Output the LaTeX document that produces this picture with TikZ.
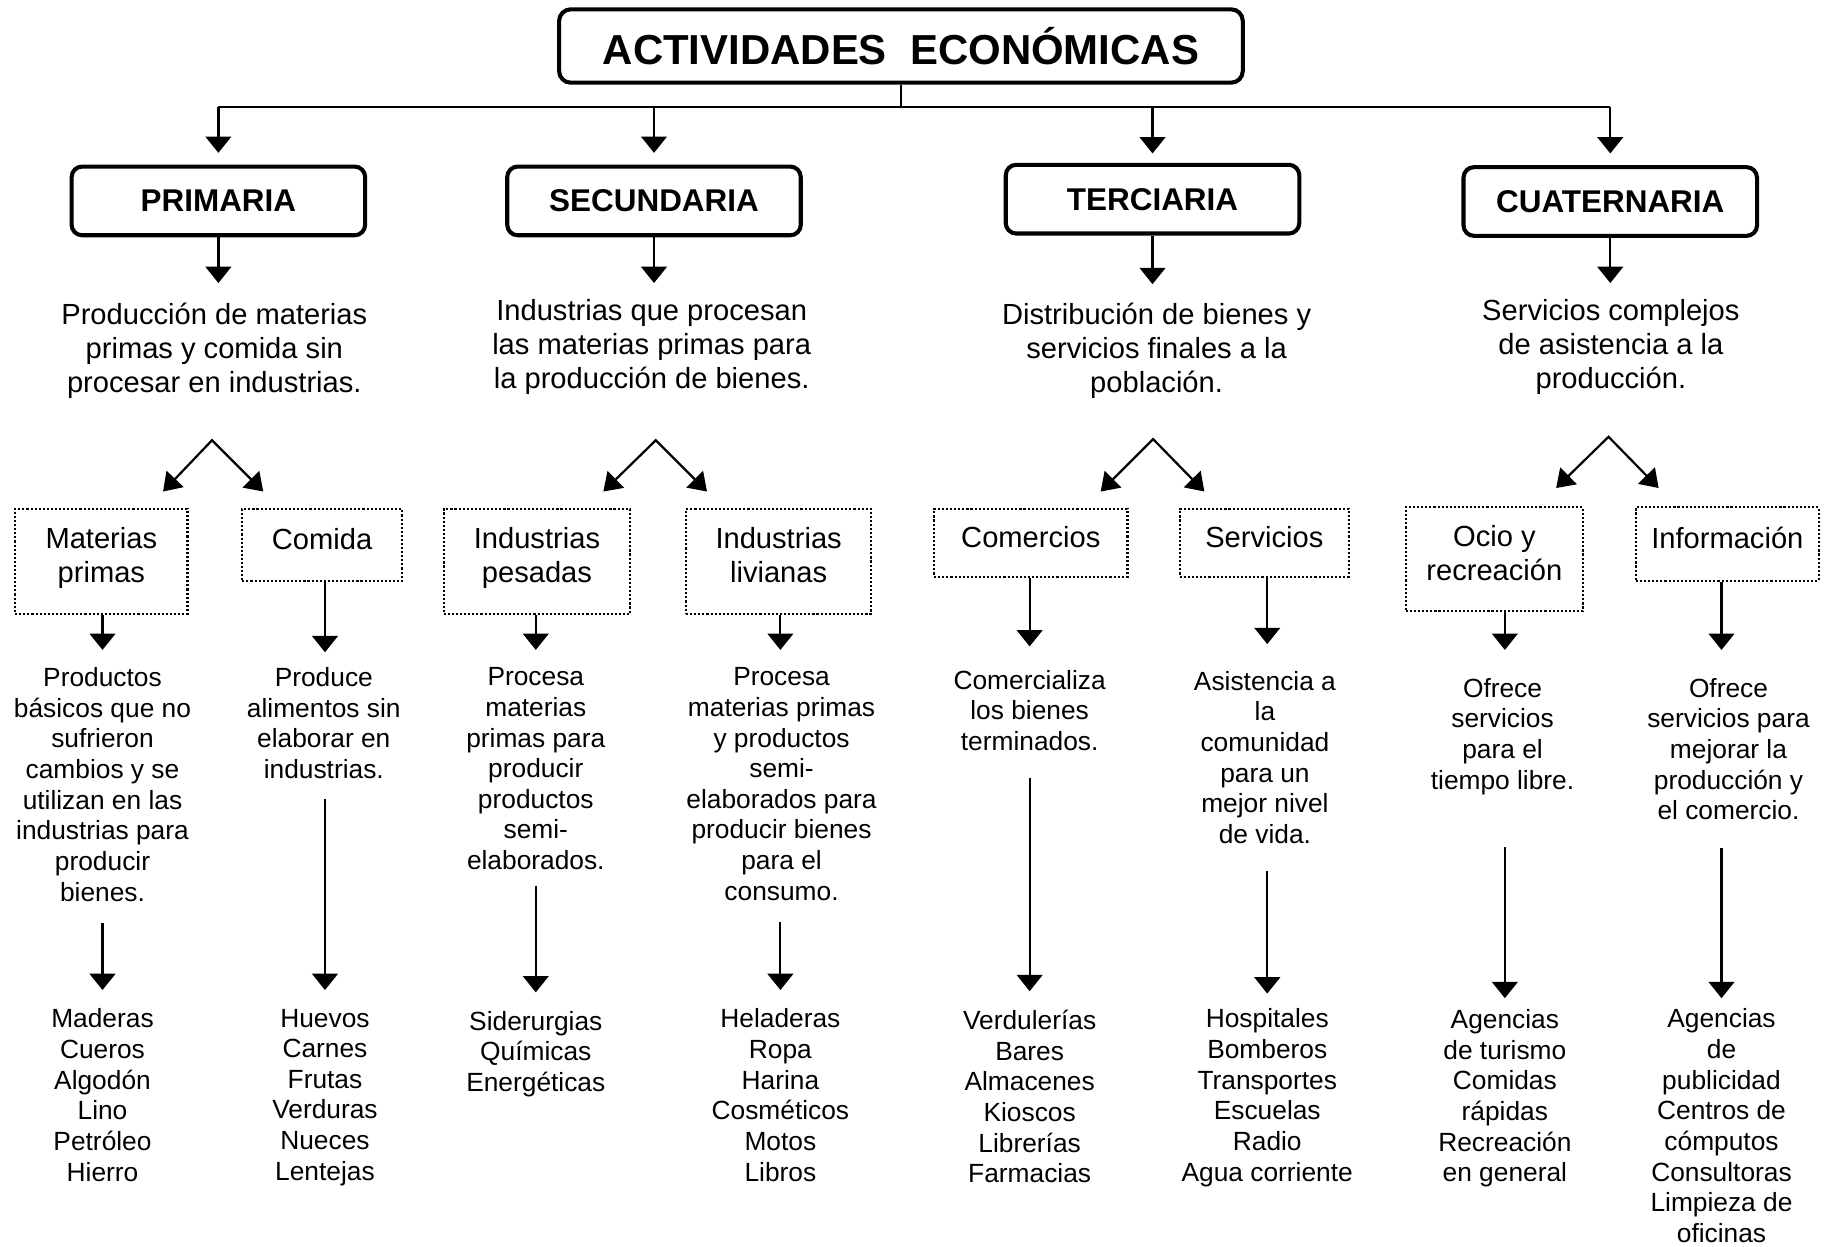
\documentclass[tikz,border=0pt]{standalone}
\usepackage{fontspec}
\setmainfont{Liberation Sans}
\usetikzlibrary{arrows.meta}
\tikzset{
  ln/.style={line width=1.9pt},
  arr/.style={line width=1.9pt, -{Triangle[width=22pt,length=14pt]}},
  fork/.style={line width=1.9pt, {Triangle[width=20pt,length=15pt]}-{Triangle[width=20pt,length=15pt]}},
  titlebox/.style={draw, line width=3.5pt, rounded corners=10pt, inner sep=0pt,
    minimum width=587pt, minimum height=63pt, font=\fontsize{36}{42}\selectfont\bfseries},
  mainbox/.style={draw, line width=3.5pt, rounded corners=9pt, inner sep=0pt,
    minimum width=252pt, minimum height=59pt, font=\fontsize{27}{32}\selectfont\bfseries},
  subbox/.style={draw, line width=1.8pt, dash pattern=on 1.8pt off 1.7pt, inner sep=0pt,
    align=center, font=\fontsize{25}{29}\selectfont,
    execute at end node={\rule[-10.5pt]{0pt}{0pt}}},
  desc/.style={anchor=north, align=center, inner sep=0pt, font=\fontsize{25}{29}\selectfont,
    execute at begin node=\strut, execute at end node=\strut},
  small/.style={anchor=north, align=center, inner sep=0pt, font=\fontsize{22.6}{26.3}\selectfont,
    execute at begin node=\strut, execute at end node=\strut},
}
\begin{document}
\begin{tikzpicture}[x=1pt,y=-1pt]
\useasboundingbox (0,0) rectangle (1566,1070.6);

% title
\node[titlebox] (title) at (773.5,39.5) {ACTIVIDADES\ \ ECONÓMICAS};

% main boxes
\node[mainbox] (p1) at (187.5,172.5) {PRIMARIA};
\node[mainbox] (p2) at (561.5,172.5) {SECUNDARIA};
\node[mainbox] (p3) at (989.5,171) {TERCIARIA};
\node[mainbox] (p4) at (1382.5,173) {CUATERNARIA};

\coordinate (bus) at (773,92);
\draw[ln] (title.south) -- (title.south |- bus);
\draw[ln] (p1.north |- bus) -- (p4.north |- bus);
\draw[arr, shorten >=10pt] (p1.north |- bus) -- (p1.north);
\draw[arr, shorten >=10pt] (p2.north |- bus) -- (p2.north);
\draw[arr, shorten >=8pt] (p3.north |- bus) -- (p3.north);
\draw[arr, shorten >=10pt] (p4.north |- bus) -- (p4.north);

% level 1 descriptions
\node[desc] (d1) at (184,260) {Producción de materias\\primas y comida sin\\procesar en industrias.};
\node[desc] (d2) at (559.5,257) {Industrias que procesan\\las materias primas para\\la producción de bienes.};
\node[desc] (d3) at (993,260) {Distribución de bienes y\\servicios finales a la\\población.};
\node[desc] (d4) at (1383,257) {Servicios complejos\\de asistencia a la\\producción.};

\draw[arr, shorten >=17pt] (p1.south) -- (p1.south |- d1.north);
\draw[arr, shorten >=14pt] (p2.south) -- (p2.south |- d2.north);
\draw[arr, shorten >=16pt] (p3.south) -- (p3.south |- d3.north);
\draw[arr, shorten >=14pt] (p4.south) -- (p4.south |- d4.north);

% forks
\coordinate (f1) at (182,378); \coordinate (f1l) at (140,422); \coordinate (f1r) at (226,422);
\coordinate (f2) at (563,378); \coordinate (f2l) at (518,422); \coordinate (f2r) at (607,422);
\coordinate (f3) at (990,377); \coordinate (f3l) at (945,422); \coordinate (f3r) at (1034,422);
\coordinate (f4) at (1381,375); \coordinate (f4l) at (1336,419); \coordinate (f4r) at (1424,419);
\draw[fork] (f1l) -- (f1) -- (f1r);
\draw[fork] (f2l) -- (f2) -- (f2r);
\draw[fork] (f3l) -- (f3) -- (f3r);
\draw[fork] (f4l) -- (f4) -- (f4r);

% sub boxes
\node[subbox, minimum width=148pt, minimum height=90pt] (b11) at (87,482) {Materias\\primas};
\node[subbox, minimum width=137pt, minimum height=62pt] (b12) at (276.5,468) {Comida};
\node[subbox, minimum width=160pt, minimum height=90pt] (b21) at (461,482) {Industrias\\pesadas};
\node[subbox, minimum width=159pt, minimum height=90pt] (b22) at (668.5,482) {Industrias\\livianas};
\node[subbox, minimum width=166pt, minimum height=58pt] (b31) at (885,466) {Comercios};
\node[subbox, minimum width=145pt, minimum height=58pt] (b32) at (1085.5,466) {Servicios};
\node[subbox, minimum width=152pt, minimum height=89pt] (b41) at (1283,480) {Ocio y\\recreación};
\node[subbox, minimum width=157pt, minimum height=63pt] (b42) at (1483,467) {Información};

% level 2 descriptions
\node[small] (e11) at (88,573) {Productos\\básicos que no\\sufrieron\\cambios y se\\utilizan en las\\industrias para\\producir\\bienes.};
\node[small] (e12) at (278,573) {Produce\\alimentos sin\\elaborar en\\industrias.};
\node[small] (e21) at (460,573) {Procesa\\materias\\primas para\\producir\\productos\\semi-\\elaborados.};
\node[small] (e22) at (671,573) {Procesa\\materias primas\\y productos\\semi-\\elaborados para\\producir bienes\\para el\\consumo.};
\node[small] (e31) at (884,575) {Comercializa\\los bienes\\terminados.};
\node[small] (e32) at (1086,576) {Asistencia a\\la\\comunidad\\para un\\mejor nivel\\de vida.};
\node[small] (e41) at (1290,582) {Ofrece\\servicios\\para el\\tiempo libre.};
\node[small] (e42) at (1484,582) {Ofrece\\servicios para\\mejorar la\\producción y\\el comercio.};

% leaves
\node[small] (l11) at (88,866) {Maderas\\Cueros\\Algodón\\Lino\\Petróleo\\Hierro};
\node[small] (l12) at (279,866) {Huevos\\Carnes\\Frutas\\Verduras\\Nueces\\Lentejas};
\node[small] (l21) at (460,868) {Siderurgias\\Químicas\\Energéticas};
\node[small] (l22) at (670,866) {Heladeras\\Ropa\\Harina\\Cosméticos\\Motos\\Libros};
\node[small] (l31) at (884,867) {Verdulerías\\Bares\\Almacenes\\Kioscos\\Librerías\\Farmacias};
\node[small] (l32) at (1088,866) {Hospitales\\Bomberos\\Transportes\\Escuelas\\Radio\\Agua corriente};
\node[small] (l41) at (1292,866.5) {Agencias\\de turismo\\Comidas\\rápidas\\Recreación\\en general};
\node[small] (l42) at (1478,866) {Agencias\\de\\publicidad\\Centros de\\cómputos\\Consultoras\\Limpieza de\\oficinas};

% sub box -> description arrows
\draw[arr, shorten >=15pt] (b11.south -| l11.north) -- (e11.north -| l11.north);
\draw[arr, shorten >=13pt] (b12.south -| l12.north) -- (e12.north -| l12.north);
\draw[arr, shorten >=15pt] (b21.south -| l21.north) -- (e21.north -| l21.north);
\draw[arr, shorten >=15pt] (b22.south -| l22.north) -- (e22.north -| l22.north);
\draw[arr, shorten >=20pt] (b31.south -| l31.north) -- (e31.north -| l31.north);
\draw[arr, shorten >=23pt] (b32.south -| l32.north) -- (e32.north -| l32.north);
\draw[arr, shorten >=24pt] (b41.south -| l41.north) -- (e41.north -| l41.north);
\draw[arr, shorten >=24pt] (b42.south -| l42.north) -- (e42.north -| l42.north);

% description -> leaves arrows
\draw[arr, shorten <=11pt, shorten >=16pt] (e11.south -| l11.north) -- (l11.north);
\draw[arr, shorten <=9pt, shorten >=16pt] (e12.south -| l12.north) -- (l12.north);
\draw[arr, shorten <=6pt, shorten >=16pt] (e21.south -| l21.north) -- (l21.north);
\draw[arr, shorten <=11pt, shorten >=16pt] (e22.south -| l22.north) -- (l22.north);
\draw[arr, shorten <=16pt, shorten >=16pt] (e31.south -| l31.north) -- (l31.north);
\draw[arr, shorten <=16pt, shorten >=13pt] (e32.south -| l32.north) -- (l32.north);
\draw[arr, shorten <=42pt, shorten >=9.5pt] (e41.south -| l41.north) -- (l41.north);
\draw[arr, shorten <=16pt, shorten >=9pt] (e42.south -| l42.north) -- (l42.north);
\end{tikzpicture}
\end{document}
